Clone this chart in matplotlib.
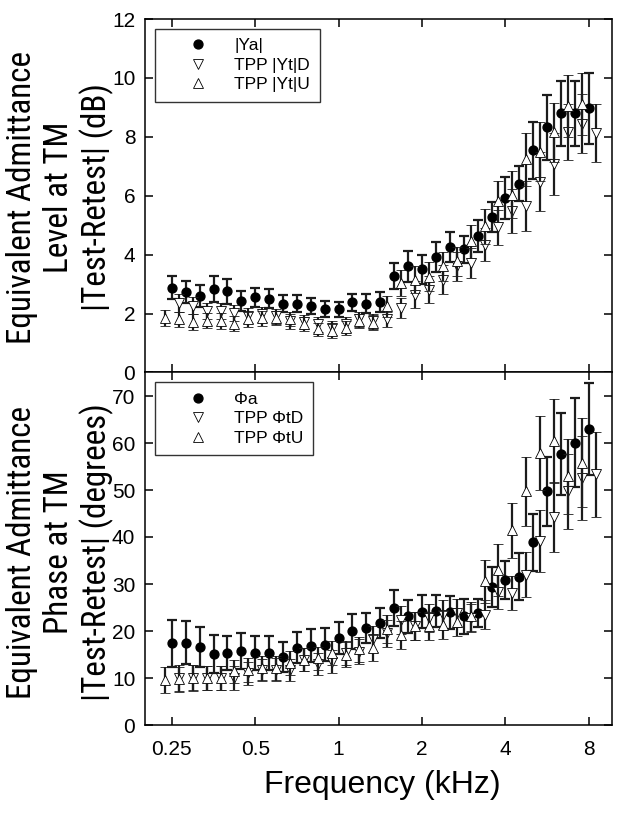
import numpy as np
import matplotlib
matplotlib.use("Agg")
import matplotlib.pyplot as plt
from matplotlib.lines import Line2D
from matplotlib.ticker import NullLocator
from matplotlib import font_manager as fm

# ---------------- data ----------------
freq_khz = [0.25, 0.281, 0.315, 0.354, 0.397, 0.445, 0.5, 0.561, 0.63, 0.707, 0.794,
            0.891, 1.0, 1.122, 1.26, 1.414, 1.587, 1.782, 2.0, 2.245, 2.52, 2.828,
            3.175, 3.564, 4.0, 4.49, 5.04, 5.657, 6.35, 7.127, 8.0]

# top panel: level (dB)
ya_mean = [2.88, 2.72, 2.61, 2.84, 2.76, 2.42, 2.55, 2.51, 2.33, 2.33, 2.25, 2.16, 2.14,
           2.38, 2.34, 2.40, 3.27, 3.60, 3.51, 3.91, 4.26, 4.19, 4.64, 5.28, 5.92, 6.41,
           7.54, 8.32, 8.80, 8.80, 8.97]
ya_err = [0.40, 0.37, 0.37, 0.45, 0.42, 0.34, 0.32, 0.33, 0.29, 0.29, 0.28, 0.26, 0.26,
          0.29, 0.32, 0.34, 0.45, 0.54, 0.49, 0.51, 0.51, 0.46, 0.54, 0.51, 0.70, 0.59,
          0.98, 1.11, 1.11, 1.11, 1.21]
ytd_mean = [2.36, 2.27, 2.08, 2.08, 2.02, 1.93, 1.97, 1.91, 1.74, 1.71, 1.63, 1.51, 1.63,
            1.80, 1.74, 1.80, 2.19, 2.64, 2.81, 3.15, 3.60, 3.72, 4.34, 4.93, 5.47, 5.64,
            6.48, 7.08, 8.15, 8.44, 8.12]
ytd_err = [0.30, 0.28, 0.28, 0.27, 0.27, 0.26, 0.26, 0.25, 0.25, 0.24, 0.24, 0.24, 0.25,
           0.25, 0.26, 0.27, 0.35, 0.45, 0.45, 0.50, 0.50, 0.50, 0.55, 0.60, 0.75, 0.85,
           1.00, 1.05, 0.95, 1.00, 0.98]
ytu_mean = [1.85, 1.80, 1.71, 1.76, 1.75, 1.66, 1.80, 1.84, 1.85, 1.82, 1.66, 1.46, 1.40,
            1.51, 1.75, 1.69, 2.25, 3.04, 3.15, 3.25, 3.60, 3.77, 4.45, 4.96, 5.81, 6.03,
            7.24, 7.50, 8.15, 9.05, 9.12]
ytu_err = [0.28, 0.27, 0.27, 0.26, 0.26, 0.25, 0.25, 0.25, 0.25, 0.24, 0.24, 0.23, 0.23,
           0.24, 0.25, 0.26, 0.35, 0.45, 0.45, 0.50, 0.50, 0.50, 0.55, 0.60, 0.70, 0.80,
           0.90, 1.00, 1.00, 1.05, 1.05]

# bottom panel: phase (degrees)
pa_mean = [17.4, 17.5, 16.6, 15.1, 15.3, 15.8, 15.3, 15.3, 14.4, 16.4, 16.9, 17.1, 18.6,
           19.9, 20.6, 21.8, 24.9, 23.1, 24.1, 24.2, 24.0, 23.1, 23.8, 29.4, 30.9, 31.5,
           38.9, 49.7, 57.6, 60.1, 62.9]
pa_err = [5.0, 4.6, 4.3, 4.1, 3.7, 3.8, 3.6, 3.7, 3.2, 3.3, 3.5, 3.5, 3.4, 3.8, 3.2, 3.2,
          3.8, 3.6, 3.5, 3.4, 3.5, 3.7, 3.0, 4.3, 4.1, 5.0, 6.1, 7.3, 8.7, 9.4, 9.8]
ptd_mean = [10.0, 10.0, 10.0, 10.0, 10.0, 11.0, 11.7, 11.8, 11.7, 13.9, 13.0, 13.5, 15.3,
            15.6, 18.3, 19.5, 22.4, 21.0, 22.7, 23.5, 23.8, 22.7, 23.5, 28.4, 28.1, 32.0,
            39.1, 44.3, 49.7, 52.6, 53.3]
ptd_err = [2.7, 2.7, 2.6, 2.6, 2.6, 2.5, 2.4, 2.4, 2.4, 2.4, 2.4, 2.4, 2.5, 2.6, 2.7, 2.8,
           3.0, 3.0, 3.0, 3.0, 3.0, 3.0, 3.0, 3.7, 3.7, 4.8, 6.6, 7.5, 8.0, 8.9, 9.0]
ptu_mean = [9.6, 9.7, 10.1, 10.0, 10.0, 11.4, 11.7, 12.1, 12.1, 13.2, 13.9, 14.2, 15.3,
            15.0, 16.1, 16.4, 20.4, 19.2, 21.0, 21.1, 21.3, 22.0, 23.1, 30.6, 33.0, 41.4,
            49.7, 57.9, 60.4, 52.9, 55.8]
ptu_err = [2.7, 2.7, 2.6, 2.6, 2.6, 2.5, 2.5, 2.5, 2.5, 2.5, 2.5, 2.5, 2.6, 2.6, 2.7, 2.8,
           3.0, 3.0, 3.0, 3.0, 3.0, 3.0, 3.0, 4.6, 5.5, 5.8, 7.3, 7.8, 8.9, 8.0, 9.5]

top_labels = ["|Ya|", "TPP |Yt|D", "TPP |Yt|U"]
bot_labels = ["\u03a6a", "TPP \u03a6tD", "TPP \u03a6tU"]
xtick_vals = [0.25, 0.5, 1, 2, 4, 8]
xtick_labels = ["0.25", "0.5", "1", "2", "4", "8"]
top_yticks = [0, 2, 4, 6, 8, 10, 12]
bot_yticks = [0, 10, 20, 30, 40, 50, 60, 70]
top_ylabel = "Equivalent Admittance\nLevel at TM\n|Test-Retest| (dB)"
bot_ylabel = "Equivalent Admittance\nPhase at TM\n|Test-Retest| (degrees)"
xlabel = "Frequency (kHz)"

# ---------------- fonts ----------------
plt.rcParams["font.family"] = ["Liberation Sans", "DejaVu Sans"]


def find_condensed():
    prefs = ["liberation sans narrow", "arial narrow", "roboto condensed",
             "noto sans", "dejavu sans", "open sans"]
    best = None
    for fe in fm.fontManager.ttflist:
        nm = (fe.name + " " + fe.fname.split("/")[-1]).lower()
        st = str(fe.stretch).lower()
        is_cond = ("narrow" in nm or "condensed" in nm or st == "condensed")
        if not is_cond or "semi" in nm or "extra" in nm or "ultra" in nm:
            continue
        if fe.style != "normal":
            continue
        if fe.weight not in (400, "normal", "regular", "book"):
            continue
        if "bold" in nm or "light" in nm or "medium" in nm or "thin" in nm or "black" in nm:
            continue
        rank = len(prefs)
        for i, p in enumerate(prefs):
            if fe.name.lower().startswith(p):
                rank = i
                break
        if best is None or rank < best[0]:
            best = (rank, fe.fname)
    return best[1] if best else None


cond_file = find_condensed()
if cond_file:
    ylab_fp = fm.FontProperties(fname=cond_file)
else:
    ylab_fp = fm.FontProperties(family="Liberation Sans")

# ---------------- figure ----------------
W, H = 624, 813
fig = plt.figure(figsize=(W / 100, H / 100), dpi=100)
renderer = fig.canvas.get_renderer()

# choose y-label size so the first line is ~292 px long, line pitch ~35 px
probe = fig.text(0, 0, "Equivalent Admittance", fontproperties=ylab_fp, fontsize=20)
wpx = probe.get_window_extent(renderer).width
probe.remove()
ylab_size = min(27.0, 20 * 292.0 / wpx)
Fpx = ylab_size * 100 / 72.0
ylab_ls = max(0.85, (35.0 - 0.21 * Fpx) / (0.73 * Fpx))

L, R = 145, 612
ax1 = fig.add_axes([L / W, 1 - 372.5 / H, (R - L) / W, (372.5 - 19) / H])
ax2 = fig.add_axes([L / W, 1 - 725 / H, (R - L) / W, (725 - 372.5) / H])

f = np.array(freq_khz)
off = 2 ** (1 / 12)
ecol = "#1c1c1c"
MS_C, MS_T = 6.4, 6.8


def draw(ax, mean_a, err_a, mean_d, err_d, mean_u, err_u, labels):
    kw = dict(ecolor=ecol, elinewidth=1.6, capsize=3.8, capthick=1.6, linestyle="none")
    ax.errorbar(f, mean_a, yerr=err_a, marker="o", ms=MS_C, mfc="black", mec="black",
                zorder=2, **kw)
    ax.errorbar(f * off, mean_d, yerr=err_d, marker="v", ms=MS_T, mfc="white",
                mec="black", mew=0.6, zorder=3, **kw)
    ax.errorbar(f / off, mean_u, yerr=err_u, marker="^", ms=MS_T, mfc="white",
                mec="black", mew=0.6, zorder=4, **kw)
    handles = [
        Line2D([], [], marker="o", ls="none", ms=MS_C, mfc="black", mec="black"),
        Line2D([], [], marker="v", ls="none", ms=MS_T, mfc="white", mec="black", mew=0.6),
        Line2D([], [], marker="^", ls="none", ms=MS_T, mfc="white", mec="black", mew=0.6),
    ]
    leg = ax.legend(handles, labels, loc="upper left", fontsize=12.5, frameon=True,
                    fancybox=False, shadow=False, borderaxespad=0.55, borderpad=0.55,
                    labelspacing=0.25, handlelength=3.9, handletextpad=0.15)
    leg.get_frame().set_edgecolor("black")
    leg.get_frame().set_linewidth(1.0)
    ax.set_xscale("log")
    ax.set_xlim(0.2, 9.7)
    ax.set_xticks(xtick_vals)
    ax.xaxis.set_minor_locator(NullLocator())
    ax.tick_params(axis="both", which="major", direction="in", top=True, right=True,
                   length=6, width=1.1, labelsize=15)
    ax.tick_params(axis="x", pad=11)
    ax.tick_params(axis="y", pad=7)
    for s in ax.spines.values():
        s.set_linewidth(1.1)


draw(ax1, ya_mean, ya_err, ytd_mean, ytd_err, ytu_mean, ytu_err, top_labels)
draw(ax2, pa_mean, pa_err, ptd_mean, ptd_err, ptu_mean, ptu_err, bot_labels)

ax1.set_ylim(0, 12)
ax1.set_yticks(top_yticks)
ax1.set_xticklabels([])
ax2.set_ylim(0, 75)
ax2.set_yticks(bot_yticks)
ax2.set_xticklabels(xtick_labels)

fig.text(382 / W, 1 - 793 / H, xlabel, ha="center", va="baseline", fontsize=23)
fig.text(60 / W, 1 - 197 / H, top_ylabel, rotation=90, ha="center", va="center",
         multialignment="center", fontproperties=ylab_fp, fontsize=ylab_size,
         linespacing=ylab_ls)
fig.text(60 / W, 1 - 552 / H, bot_ylabel, rotation=90, ha="center", va="center",
         multialignment="center", fontproperties=ylab_fp, fontsize=ylab_size,
         linespacing=ylab_ls)

fig.savefig("out.png", dpi=100)
